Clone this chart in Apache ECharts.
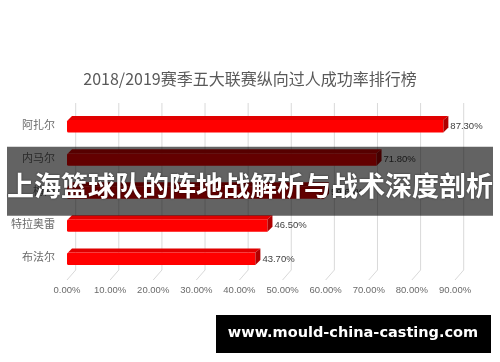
<!DOCTYPE html>
<html>
<head>
<meta charset="utf-8">
<script src="https://cdn.jsdelivr.net/npm/echarts@6/dist/echarts.min.js"></script>
<style>html,body{margin:0;padding:0;background:#fff;}#c{width:500px;height:362px;}</style>
</head>
<body>
<div id="c"></div>
<script>
var titleText = '2018/2019赛季五大联赛纵向过人成功率排行榜';
var categories = ['阿扎尔', '内马尔', '梅西', '特拉奥雷', '布法尔'];
var values = [87.3, 71.8, 59.6, 46.5, 43.7];
var ticks = [0, 10, 20, 30, 40, 50, 60, 70, 80, 90];
var bannerText = '上海篮球队的阵地战解析与战术深度剖析';
var watermarkText = 'www.mould-china-casting.com';

var CJK = '"Noto Sans CJK SC", "Noto Sans", sans-serif';
var chart = echarts.init(document.getElementById('c'), null, {renderer: 'canvas'});

var option = {
  backgroundColor: '#ffffff',
  animation: false,
  title: {
    text: titleText,
    left: 'center',
    top: 66,
    textStyle: {fontFamily: CJK, fontSize: 16, fontWeight: 'normal', color: '#595959'}
  },
  grid: {left: 67, right: 45, top: 108, bottom: 88.5},
  xAxis: {
    type: 'value', min: 0, max: 90, interval: 10,
    axisLine: {show: false}, axisTick: {show: false}, splitLine: {show: false},
    axisLabel: {
      margin: 12, color: '#6a6a6a', fontSize: 9.5, fontFamily: '"Liberation Sans", Arial, sans-serif',
      formatter: function (v) { return v.toFixed(2) + '%'; }
    }
  },
  yAxis: {
    type: 'category', data: categories, inverse: true,
    axisLine: {show: false}, axisTick: {show: false}, splitLine: {show: false},
    axisLabel: {margin: 12, color: '#6a6a6a', fontSize: 11, fontFamily: CJK}
  },
  series: [
    {
      type: 'custom', z: 1, silent: true,
      data: ticks.map(function (t) { return [t]; }),
      encode: {x: 0},
      renderItem: function (params, api) {
        var cs = params.coordSys;
        var p = api.coord([api.value(0), 0]);
        var bx = p[0] + 8.7;
        var top = cs.y - 5, bot = cs.y + cs.height - 3.5, front = cs.y + cs.height + 6.5;
        return {type: 'group', children: [
          {type: 'line', shape: {x1: bx, y1: top, x2: bx, y2: bot}, style: {stroke: '#d9d9d9', lineWidth: 1}},
          {type: 'line', shape: {x1: p[0], y1: front, x2: bx, y2: bot}, style: {stroke: '#d9d9d9', lineWidth: 1}}
        ]};
      }
    },
    {
      type: 'custom', z: 2, silent: true,
      data: values.map(function (v, i) { return [v, i]; }),
      encode: {x: 0, y: 1},
      renderItem: function (params, api) {
        var v = api.value(0), ci = api.value(1);
        var p0 = api.coord([0, ci]), p1 = api.coord([v, ci]);
        var c = p0[1];
        var x0 = p0[0], x1 = p1[0];
        var y0 = c - 4.5, y1 = c + 8, dx = 5, dy = 4;
        return {type: 'group', children: [
          {type: 'polygon', shape: {points: [[x0 + 1, y0], [x1, y0], [x1 + dx, y0 - dy], [x0 + dx, y0 - dy]]}, style: {fill: '#e00000'}},
          {type: 'rect', shape: {x: x0, y: y0, width: x1 - x0, height: y1 - y0, r: [1.5, 0, 0, 1.5]}, style: {fill: '#ff0000'}},
          {type: 'polygon', shape: {points: [[x1, y0], [x1 + dx, y0 - dy], [x1 + dx, y1 - dy - 1], [x1, y1]]}, style: {fill: '#b00000'}},
          {type: 'text', style: {
            text: v.toFixed(2) + '%', x: x1 + dx + 2, y: c + 2,
            fill: '#404040', fontSize: 9.5, fontFamily: '"Liberation Sans", Arial, sans-serif',
            verticalAlign: 'middle', align: 'left'
          }}
        ]};
      }
    }
  ],
  graphic: [
    {type: 'rect', z: 100, shape: {x: 7, y: 146.7, width: 486, height: 69}, style: {fill: 'rgba(0,0,0,0.61)'}},
    {type: 'text', z: 101, x: 250, y: 186, style: {
      text: bannerText, fill: '#ffffff', fontSize: 27, fontWeight: 'bold', fontFamily: CJK,
      align: 'center', verticalAlign: 'middle', textShadowColor: 'rgba(0,0,0,0.6)', textShadowBlur: 2
    }},
    {type: 'rect', z: 100, shape: {x: 216, y: 315, width: 275, height: 38}, style: {fill: '#000000'}},
    {type: 'text', z: 101, x: 353, y: 333, style: {
      text: watermarkText, fill: '#ffffff', fontSize: 14.5, fontWeight: 'bold', fontFamily: '"DejaVu Sans", sans-serif',
      align: 'center', verticalAlign: 'middle'
    }}
  ]
};
chart.setOption(option);
</script>
</body>
</html>
